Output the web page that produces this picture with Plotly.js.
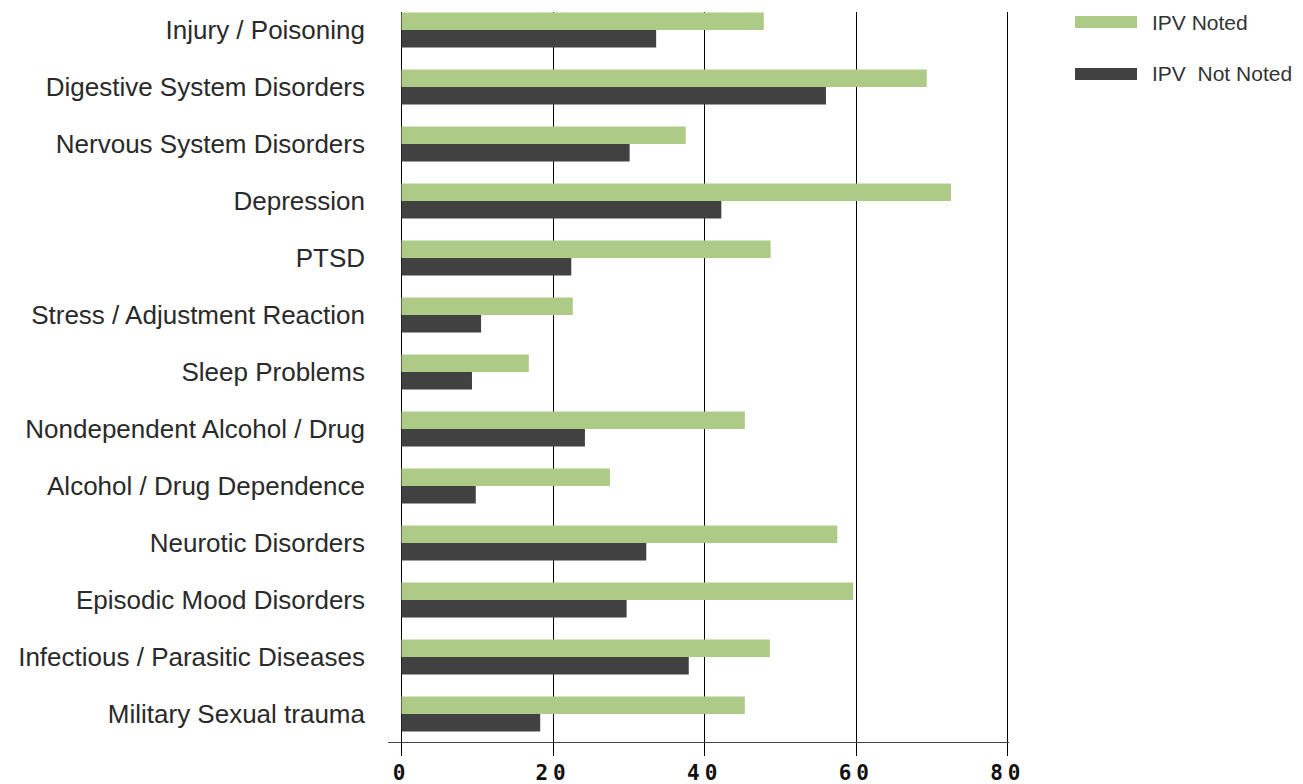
<!DOCTYPE html>
<html>
<head>
<meta charset="utf-8">
<script src="https://cdn.plot.ly/plotly-3.0.1.min.js"></script>
<style>
html,body{margin:0;padding:0;background:#fff;}
#chart{width:1303px;height:784px;}
.xtick text{letter-spacing:5px;}
</style>
</head>
<body>
<div id="chart"></div>
<script>
const categories = [
  "Injury / Poisoning",
  "Digestive System Disorders",
  "Nervous System Disorders",
  "Depression",
  "PTSD",
  "Stress / Adjustment Reaction",
  "Sleep Problems",
  "Nondependent Alcohol / Drug",
  "Alcohol / Drug Dependence",
  "Neurotic Disorders",
  "Episodic Mood Disorders",
  "Infectious / Parasitic Diseases",
  "Military Sexual trauma"
];
const ipvNoted    = [47.8, 69.3, 37.5, 72.5, 48.7, 22.6, 16.8, 45.3, 27.5, 57.5, 59.6, 48.6, 45.3];
const ipvNotNoted = [33.6, 56.0, 30.1, 42.2, 22.4, 10.5, 9.3, 24.2, 9.8, 32.3, 29.7, 37.9, 18.3];
const seriesNames = ["IPV Noted", "IPV\u00a0 Not Noted"];
const seriesColors = ["#adcb87", "#414142"];
const xTicks = [0, 20, 40, 60, 80];

const traces = [
  {type:"bar", orientation:"h", name:seriesNames[0], y:categories, x:ipvNoted,
   marker:{color:seriesColors[0]}, showlegend:false, hoverinfo:"x+y"},
  {type:"bar", orientation:"h", name:seriesNames[1], y:categories, x:ipvNotNoted,
   marker:{color:seriesColors[1]}, showlegend:false, hoverinfo:"x+y"}
];

const L = 388, R = 1009, T = 12, B = 742;
const px = v => (v - L) / (R - L);
const py = v => (B - v) / (B - T);

const shapes = [], annotations = [];
const legendRows = [22, 74];
seriesNames.forEach((n, i) => {
  shapes.push({type:"rect", xref:"paper", yref:"paper",
    x0:px(1075), x1:px(1137), y0:py(legendRows[i]+6), y1:py(legendRows[i]-6),
    fillcolor:seriesColors[i], line:{width:0}});
  annotations.push({xref:"paper", yref:"paper", x:px(1150), y:py(legendRows[i]),
    xanchor:"left", yanchor:"middle", showarrow:false, text:n,
    font:{family:"Liberation Sans, Arial, sans-serif", size:21, color:"#333"}});
});

const layout = {
  width:1303, height:784,
  margin:{l:L, r:1303-R, t:T, b:784-B, pad:0},
  paper_bgcolor:"#fff", plot_bgcolor:"#fff",
  barmode:"group", bargap:0.386, bargroupgap:0,
  showlegend:false,
  xaxis:{range:[-1.78, 80.15], tickvals:xTicks, ticktext:xTicks.map(String),
    showgrid:true, gridcolor:"#000", gridwidth:1, zeroline:false,
    showline:true, linecolor:"#444", linewidth:1,
    ticks:"outside", ticklen:13, tickcolor:"#000", tickwidth:1,
    ticklabelstandoff:-1,
    tickfont:{family:"DejaVu Sans Mono, monospace", size:21, color:"#111", weight:"bold"},
    fixedrange:true},
  yaxis:{type:"category", range:[12.49, -0.316], showgrid:false, zeroline:false,
    showline:false, ticks:"", ticklabelstandoff:22,
    tickfont:{family:"Liberation Sans, Arial, sans-serif", size:26, color:"#2a2a2a"},
    fixedrange:true},
  shapes:shapes, annotations:annotations,
  font:{family:"Liberation Sans, Arial, sans-serif"}
};

Plotly.newPlot("chart", traces, layout, {displayModeBar:false, staticPlot:true});
</script>
</body>
</html>
